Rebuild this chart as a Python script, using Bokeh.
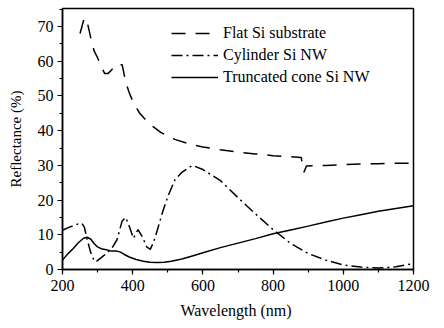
from bokeh.plotting import figure
from bokeh.models import Range1d, Legend, LegendItem, FixedTicker
from bokeh.embed import file_html
from bokeh.resources import INLINE

# --- data ---
flat_x = [250, 262, 270, 280, 290, 300, 310, 320, 330, 340, 350, 360, 370, 380, 390, 400,
          420, 440, 460, 480, 500, 520, 560, 600, 650, 700, 750, 800, 850, 880, 888, 895,
          950, 1000, 1050, 1100, 1150, 1200]
flat_y = [68, 72.5, 71.5, 67, 63, 61, 58.5, 56.5, 56.5, 57.5, 59, 59, 59, 54, 51, 48.5,
          45, 42.8, 41, 39.5, 38.5, 37.5, 36.2, 35.3, 34.5, 33.8, 33.3, 32.8, 32.5, 32.3, 28, 29.8,
          30.0, 30.2, 30.4, 30.5, 30.6, 30.6]

cyl_x = [200, 220, 240, 255, 262, 270, 280, 290, 295, 305, 320, 340, 355, 370, 380, 390,
         402, 415, 428, 440, 450, 460, 470, 485, 500, 520, 540, 570, 600, 650, 700, 750,
         800, 850, 900, 950, 1000, 1050, 1100, 1150, 1200]
cyl_y = [11.3, 12.2, 13.0, 13.3, 12.3, 8.8, 5, 2.6, 2.2, 3, 4.2, 6, 8.5, 14, 15, 12.5,
         9, 11.5, 9.3, 6.5, 5.8, 8, 11.3, 16.5, 21, 25.8, 28, 30, 28.8, 25.6, 20.7, 16,
         11.5, 7.5, 4.6, 2.7, 1.3, 0.7, 0.4, 0.8, 1.7]

cone_x = [200, 215, 230, 245, 260, 270, 280, 290, 300, 310, 325, 340, 355, 365, 375, 390,
          410, 430, 450, 470, 490, 510, 540, 570, 600, 650, 700, 750, 800, 850, 900, 950,
          1000, 1050, 1100, 1150, 1200]
cone_y = [2.7, 4.5, 6.0, 7.7, 9.0, 9.3, 8.8, 7.5, 6.5, 6.0, 5.7, 5.3, 5.3, 5.0, 4.4, 3.6,
          2.9, 2.4, 2.1, 2.0, 2.1, 2.4, 3.0, 3.9, 4.8, 6.3, 7.6, 8.9, 10.3, 11.4, 12.5, 13.7,
          14.8, 15.8, 16.8, 17.6, 18.4]

labels = ["Flat Si substrate", "Cylinder Si NW", "Truncated cone Si NW"]
x_ticks = [200, 400, 600, 800, 1000, 1200]
y_ticks = [0, 10, 20, 30, 40, 50, 60, 70]

FONT = "Liberation Serif"

p = figure(width=444, height=328, output_backend="svg", toolbar_location=None,
           x_range=Range1d(200, 1200), y_range=Range1d(0, 75.2),
           min_border_left=62, min_border_right=31, min_border_top=8, min_border_bottom=59)
p.grid.visible = False
p.outline_line_color = "black"
p.outline_line_width = 1.5
p.background_fill_color = "white"
p.border_fill_color = "white"

r1 = p.line(flat_x, flat_y, line_color="black", line_width=1.5, line_dash="14 10")
r2 = p.line(cyl_x, cyl_y, line_color="black", line_width=1.5, line_dash="11 4 2 4")
r3 = p.line(cone_x, cone_y, line_color="black", line_width=1.5)

legend = Legend(items=[LegendItem(label=labels[0], renderers=[r1]),
                       LegendItem(label=labels[1], renderers=[r2]),
                       LegendItem(label=labels[2], renderers=[r3])],
                location=(109, 181))
legend.border_line_alpha = 0
legend.background_fill_alpha = 0
legend.margin = 0
legend.padding = 0
legend.spacing = 0
legend.glyph_width = 47
legend.glyph_height = 22
legend.label_height = 22
legend.label_standoff = 5
legend.label_text_font = FONT
legend.label_text_font_size = "16px"
legend.label_text_color = "black"
p.add_layout(legend, "center")

p.xaxis.ticker = FixedTicker(ticks=x_ticks, minor_ticks=list(range(200, 1201, 100)))
p.yaxis.ticker = FixedTicker(ticks=y_ticks, minor_ticks=list(range(0, 76, 5)))

p.xaxis.major_label_text_font = FONT
p.yaxis.major_label_text_font = FONT
p.xaxis.axis_label_text_font = FONT
p.yaxis.axis_label_text_font = FONT
p.axis.axis_line_width = 1.5
p.axis.axis_line_color = "black"
p.axis.major_tick_in = 0
p.axis.major_tick_out = 5
p.axis.minor_tick_in = 0
p.axis.minor_tick_out = 3
p.axis.major_tick_line_width = 1.2
p.axis.minor_tick_line_width = 1.2
p.axis.major_label_text_font_size = "16px"
p.axis.major_label_text_color = "black"
p.xaxis.axis_label_text_font_size = "16px"
p.yaxis.axis_label_text_font_size = "15px"
p.axis.axis_label_text_font_style = "normal"
p.axis.axis_label_text_color = "black"

p.xaxis.axis_label = "Wavelength  (nm)"
p.yaxis.axis_label = "Reflectance (%)"
p.xaxis.major_label_standoff = 5
p.yaxis.major_label_standoff = 4
p.xaxis.axis_label_standoff = 8
p.yaxis.axis_label_standoff = 11

open("out.html", "w").write(file_html(p, INLINE))
